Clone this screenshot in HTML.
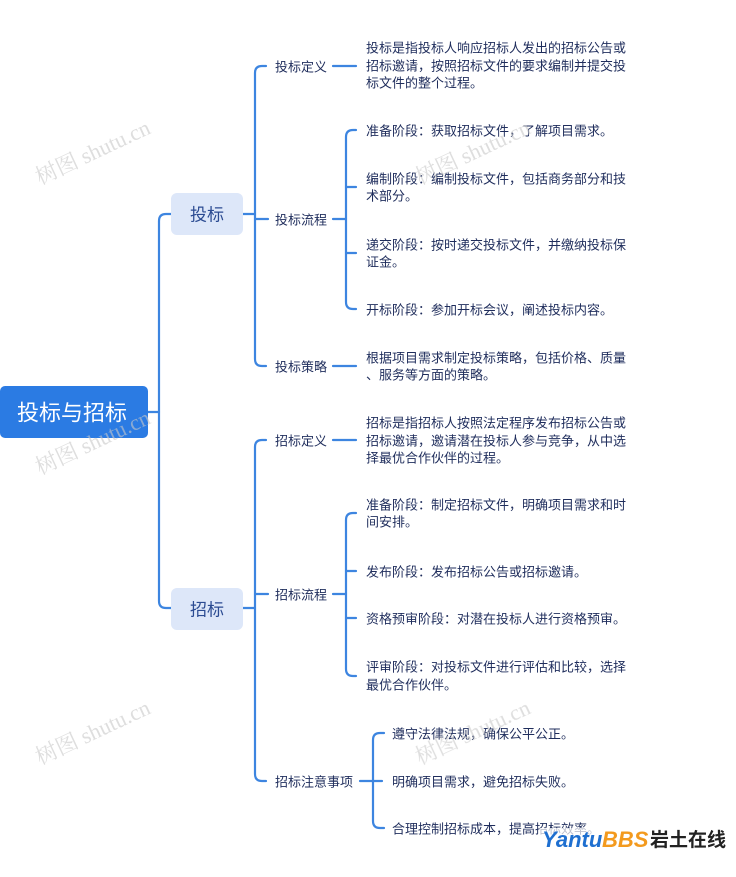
<!DOCTYPE html>
<html><head><meta charset="utf-8"><style>
html,body{margin:0;padding:0;background:#fff;}
svg text{font-family:"Liberation Sans","Noto Sans CJK SC",sans-serif;}
</style></head><body>
<svg width="736" height="872" viewBox="0 0 736 872" xmlns="http://www.w3.org/2000/svg">
<g fill="none" stroke="#3d85e0" stroke-width="2.2" stroke-linecap="round">
<path d="M148 412 H159"/>
<path d="M171 214 H166 Q159 214 159 221 V601 Q159 608 166 608 H171"/>
<path d="M243 214 H255"/>
<path d="M266 66 H262 Q255 66 255 73 V359 Q255 366 262 366 H266"/>
<path d="M255 219 H268"/>
<path d="M333 66 H356"/>
<path d="M333 366 H356"/>
<path d="M333 219 H346"/>
<path d="M356 130 H353 Q346 130 346 137 V302 Q346 309 353 309 H356"/>
<path d="M346 187 H356"/><path d="M346 253 H356"/>
<path d="M243 608 H255"/>
<path d="M266 440 H262 Q255 440 255 447 V774 Q255 781 262 781 H266"/>
<path d="M255 594 H268"/>
<path d="M333 440 H356"/>
<path d="M333 594 H346"/>
<path d="M356 513 H353 Q346 513 346 520 V669 Q346 676 353 676 H356"/>
<path d="M346 571 H356"/><path d="M346 618 H356"/>
<path d="M360 781 H382"/>
<path d="M384 733 H380 Q373 733 373 740 V821 Q373 828 380 828 H384"/>
</g>
<rect x="0" y="386" width="148" height="52" rx="5" fill="#2b7be3"/>
<text x="72" y="413" fill="#fff" font-size="22" text-anchor="middle" dominant-baseline="central">投标与招标</text>
<rect x="171" y="193" width="72" height="42" rx="6" fill="#dde7f9"/>
<text x="207" y="215" fill="#2b4b92" font-size="17" text-anchor="middle" dominant-baseline="central">投标</text>
<rect x="171" y="588" width="72" height="42" rx="6" fill="#dde7f9"/>
<text x="207" y="610" fill="#2b4b92" font-size="17" text-anchor="middle" dominant-baseline="central">招标</text>
<g fill="#1f2d5c" font-size="13" dominant-baseline="central">
<text x="275" y="67">投标定义</text>
<text x="275" y="220">投标流程</text>
<text x="275" y="367">投标策略</text>
<text x="275" y="441">招标定义</text>
<text x="275" y="595">招标流程</text>
<text x="275" y="782">招标注意事项</text>
<text x="366" y="48">投标是指投标人响应招标人发出的招标公告或</text>
<text x="366" y="66">招标邀请，按照招标文件的要求编制并提交投</text>
<text x="366" y="83">标文件的整个过程。</text>
<text x="366" y="131">准备阶段：获取招标文件，了解项目需求。</text>
<text x="366" y="179">编制阶段：编制投标文件，包括商务部分和技</text>
<text x="366" y="196">术部分。</text>
<text x="366" y="245">递交阶段：按时递交投标文件，并缴纳投标保</text>
<text x="366" y="262">证金。</text>
<text x="366" y="310">开标阶段：参加开标会议，阐述投标内容。</text>
<text x="366" y="358">根据项目需求制定投标策略，包括价格、质量</text>
<text x="366" y="375">、服务等方面的策略。</text>
<text x="366" y="423">招标是指招标人按照法定程序发布招标公告或</text>
<text x="366" y="441">招标邀请，邀请潜在投标人参与竞争，从中选</text>
<text x="366" y="458">择最优合作伙伴的过程。</text>
<text x="366" y="505">准备阶段：制定招标文件，明确项目需求和时</text>
<text x="366" y="522">间安排。</text>
<text x="366" y="572">发布阶段：发布招标公告或招标邀请。</text>
<text x="366" y="619">资格预审阶段：对潜在投标人进行资格预审。</text>
<text x="366" y="667">评审阶段：对投标文件进行评估和比较，选择</text>
<text x="366" y="685">最优合作伙伴。</text>
<text x="392" y="734">遵守法律法规，确保公平公正。</text>
<text x="392" y="782">明确项目需求，避免招标失败。</text>
<text x="392" y="829">合理控制招标成本，提高招标效率。</text>
</g>
<g fill="#c8c8c8" font-size="22" opacity="0.6">
<text transform="translate(40,185) rotate(-25)" style="font-family:'Liberation Serif','Noto Serif CJK SC',serif">树图 shutu.cn</text>
<text transform="translate(420,185) rotate(-25)" style="font-family:'Liberation Serif','Noto Serif CJK SC',serif">树图 shutu.cn</text>
<text transform="translate(40,475) rotate(-25)" style="font-family:'Liberation Serif','Noto Serif CJK SC',serif">树图 shutu.cn</text>
<text transform="translate(40,765) rotate(-25)" style="font-family:'Liberation Serif','Noto Serif CJK SC',serif">树图 shutu.cn</text>
<text transform="translate(420,765) rotate(-25)" style="font-family:'Liberation Serif','Noto Serif CJK SC',serif">树图 shutu.cn</text>
</g>
<rect x="540" y="828" width="190" height="22" fill="#fff" opacity="0.7"/>
<text x="542" y="847" font-size="22" font-weight="bold" font-style="italic" fill="#1e6fd0">Yantu</text>
<text x="602" y="847" font-size="22" font-weight="bold" font-style="italic" fill="#f39a1e">BBS</text>
<text x="650" y="846" font-size="19" font-weight="bold" fill="#222">岩土在线</text>
</svg>
</body></html>
